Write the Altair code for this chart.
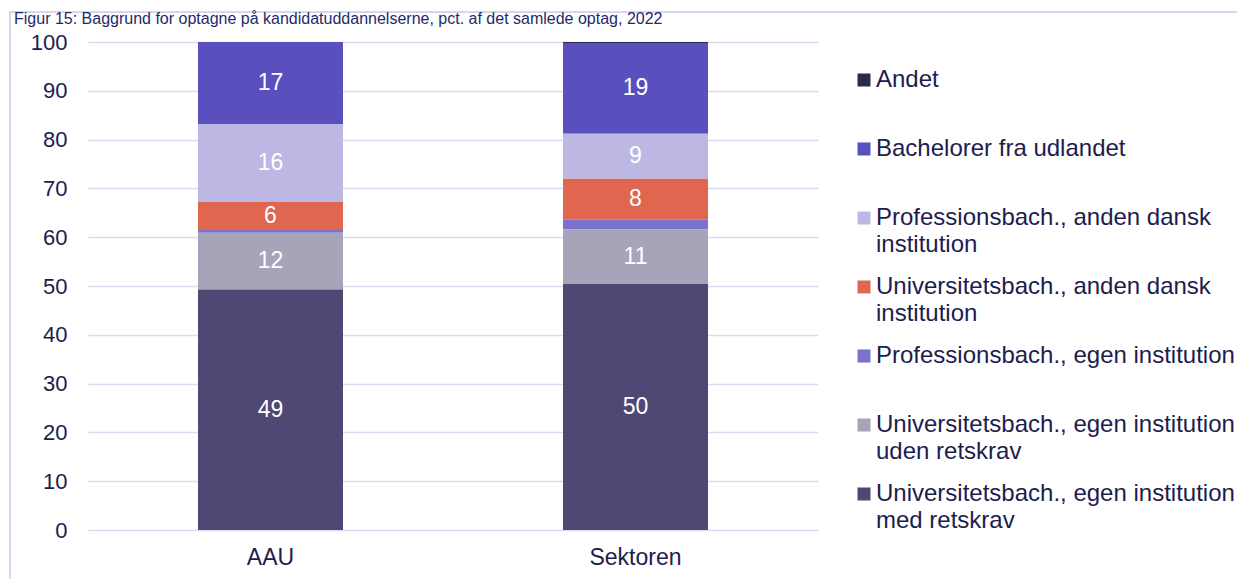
import altair as alt
import pandas as pd

groups = ["AAU", "Sektoren"]
categories = [
    "Andet",
    "Bachelorer fra udlandet",
    "Professionsbach., anden dansk\ninstitution",
    "Universitetsbach., anden dansk\ninstitution",
    "Professionsbach., egen institution",
    "Universitetsbach., egen institution\nuden retskrav",
    "Universitetsbach., egen institution\nmed retskrav",
]
colors = ["#2d2a4d", "#5a4fbf", "#bcb8e3", "#e06650", "#7a72cc", "#a7a4b9", "#4f4874"]
aau = [0.0, 16.8, 16.0, 5.7, 0.6, 11.6, 49.3]
sektoren = [0.2, 18.6, 9.2, 8.4, 2.0, 11.2, 50.4]
y_ticks = [0, 10, 20, 30, 40, 50, 60, 70, 80, 90, 100]
title_text = "Figur 15: Baggrund for optagne på kandidatuddannelserne, pct. af det samlede optag, 2022"

FONT = "Liberation Sans"
TEXT_COLOR = "#201c4e"
GRID = "#dcd9f3"

rows = []
for g, vals in zip(groups, [aau, sektoren]):
    for i, (c, v) in enumerate(zip(categories, vals)):
        rows.append({"group": g, "category": c, "value": v, "stack_order": len(categories) - 1 - i})
df = pd.DataFrame(rows)

base = alt.Chart(df)

x_enc = alt.X(
    "group:N",
    sort=groups,
    scale=alt.Scale(paddingInner=0, paddingOuter=0),
    axis=alt.Axis(title=None, labelAngle=0, domain=False, ticks=False, labelPadding=16,
                  labelFontSize=23, labelFont=FONT, labelColor=TEXT_COLOR),
)

bars = base.mark_bar(size=145).encode(
    x=x_enc,
    y=alt.Y(
        "value:Q",
        stack="zero",
        scale=alt.Scale(domain=[0, 100], nice=False),
        axis=alt.Axis(title=None, values=y_ticks, domain=False, ticks=False, labelPadding=21,
                      labelFontSize=22, labelFont=FONT, labelColor=TEXT_COLOR,
                      grid=True, gridColor=GRID, gridWidth=1.5),
    ),
    color=alt.Color(
        "category:N",
        scale=alt.Scale(domain=categories, range=colors),
        legend=alt.Legend(
            title=None, orient="none", legendX=764, legendY=26, padding=0,
            symbolType="square", symbolSize=169, symbolStrokeWidth=0,
            labelFontSize=24, labelFont=FONT, labelColor=TEXT_COLOR, labelLimit=600,
            labelOffset=0, labelExpr="split(datum.label, '\\n')",
            gridAlign="all", rowPadding=18,
        ),
    ),
    order=alt.Order("stack_order:Q", sort="ascending"),
)

labels = base.transform_stack(
    stack="value", groupby=["group"], as_=["y0", "y1"],
    sort=[alt.SortField("stack_order", order="ascending")],
).transform_calculate(
    mid="(datum.y0 + datum.y1) / 2"
).transform_filter(
    "datum.value >= 4"
).mark_text(color="white", fontSize=23, font=FONT).encode(
    x=alt.X("group:N", sort=groups),
    y=alt.Y("mid:Q"),
    text=alt.Text("value:Q", format=".0f"),
)

frame = alt.Chart(pd.DataFrame({"k": [0]})).mark_rect(
    fill="transparent", stroke="#d8d5f0", strokeWidth=2
).encode(
    x=alt.value(-78), x2=alt.value(1200), y=alt.value(-30), y2=alt.value(600)
)

chart = alt.layer(frame, bars, labels).properties(
    width=730,
    height=488,
    autosize=alt.AutoSizeParams(type="none"),
    padding={"left": 80, "top": 34, "right": 419, "bottom": 49},
    title=alt.TitleParams(
        text=title_text, anchor="start", frame="group", dx=-74, offset=-16,
        fontSize=16, font=FONT, fontWeight="normal", color="#1f2a6b",
    ),
).configure(
    background="white",
    view=alt.ViewConfig(strokeWidth=0),
    style={"guide-label": {"lineHeight": 27}},
)

chart.save("out.html", embed_options={"renderer": "svg", "actions": False})
